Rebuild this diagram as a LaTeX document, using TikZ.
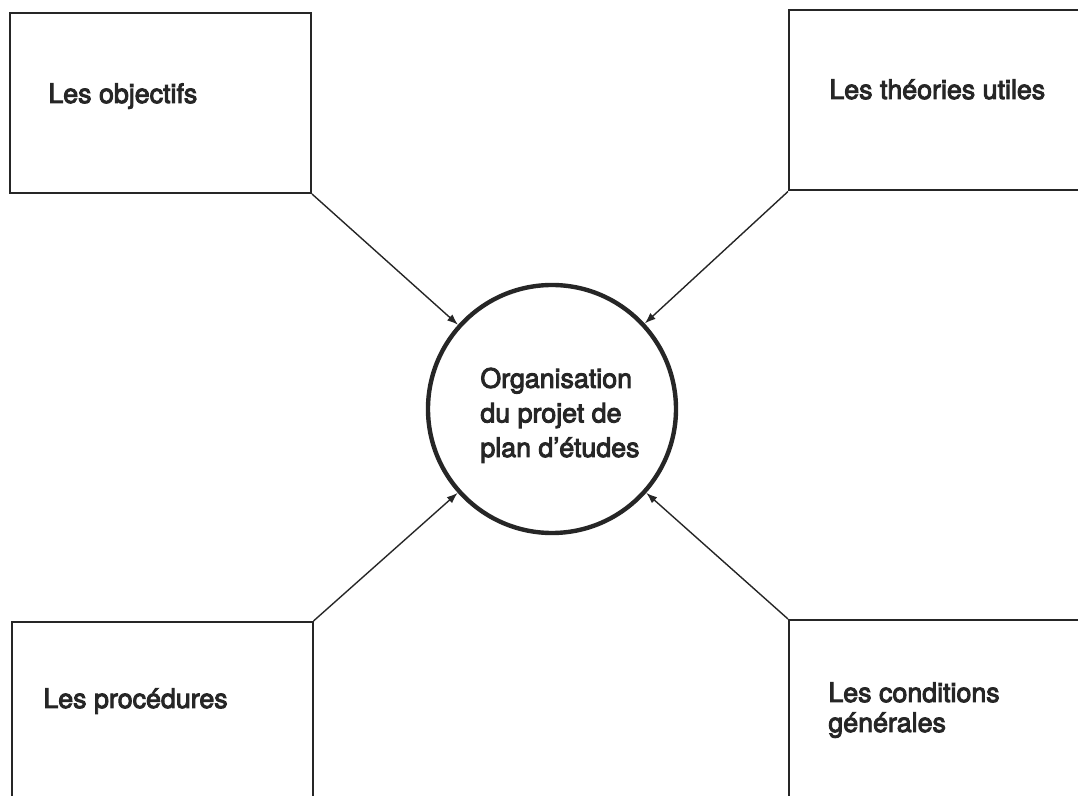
\documentclass[tikz,border=0pt]{standalone}
\usepackage{fontspec}
\setmainfont{TeX Gyre Heros}[FakeBold=3.5]
\usetikzlibrary{arrows.meta,positioning}

\begin{document}
\begin{tikzpicture}[x=0.5pt,y=-0.5pt,
  boite/.style={draw=black!85,line width=1pt,inner sep=0pt,minimum width=150.5pt,minimum height=90pt},
  etiq/.style={anchor=base west,inner sep=0pt,text=black!85,align=left,font=\fontsize{13.4}{15}\selectfont},
  fleche/.style={draw=black!85,line width=0.7pt,-{Latex[length=5.5pt,width=4pt]}}]

\useasboundingbox (0,0) rectangle (1078,796);
\clip (0,0) rectangle (1078,796);

% les quatre cadres
\node[boite] (obj) at (160.5,103) {};
\node[boite] (theo) at (939.5,100.5) {};
\node[boite] (proc) at (162,712) {};
\node[boite] (cond) at (939.5,710) {};

\node[etiq] (objtxt) at (48,103) {Les objectifs};
\node[etiq] (theotxt) at (829,99) {Les théories utiles};
\node[etiq] (proctxt) at (43,708) {Les procédures};
\node[etiq] (condtxt) at (828,732) {Les conditions\\générales};

% le cercle central
\node[circle,draw=black!85,line width=2.2pt,minimum size=124pt,inner sep=0pt] (org) at (552,409) {};
\node[etiq,font=\fontsize{13.4}{17.3}\selectfont] (orgtxt) at (480,457)
  {Organisation\\du projet de\\plan d’études};

\draw[fleche] (obj.south east) -- (org);
\draw[fleche] (theo.south west) -- (org);
\draw[fleche] (proc.north east) -- (org);
\draw[fleche] (cond.north west) -- (org);
\end{tikzpicture}
\end{document}
